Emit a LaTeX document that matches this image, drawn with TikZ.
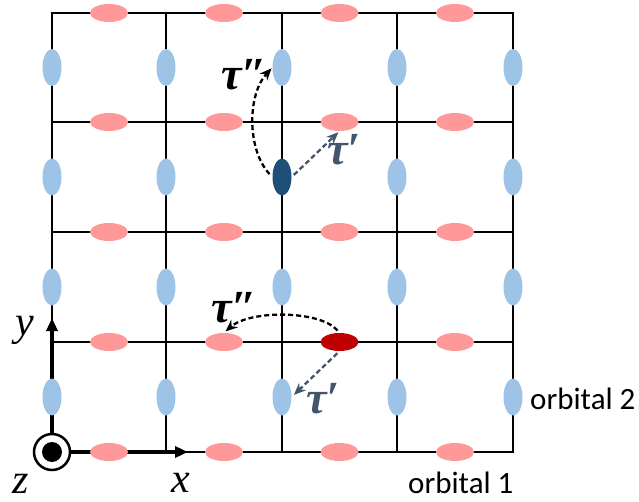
\documentclass[tikz,border=0pt]{standalone}
\usepackage{fontspec}
\setmainfont{Liberation Serif}
\newfontfamily\lblfont{Carlito}
\usetikzlibrary{shapes.geometric,arrows.meta}
\definecolor{pinkorb}{HTML}{FF9999}
\definecolor{blueorb}{HTML}{9DC3E6}
\definecolor{darkblueorb}{HTML}{1F4E79}
\definecolor{darkredorb}{HTML}{C00000}
\definecolor{slate}{HTML}{44546A}
\begin{document}
\begin{tikzpicture}[x=1pt,y=-1pt,
  gridline/.style={line width=2.3pt, black, line cap=rect},
  orbone/.style={ellipse, fill=pinkorb, minimum width=38pt, minimum height=18pt, inner sep=0pt},
  orbtwo/.style={ellipse, fill=blueorb, minimum width=19pt, minimum height=37pt, inner sep=0pt},
  hopblack/.style={black, line width=2.3pt, dash pattern=on 5pt off 3pt, -{Stealth[length=12pt,width=10pt]}},
  hopslate/.style={slate, line width=2.3pt, dash pattern=on 5pt off 3pt, -{Stealth[length=12pt,width=10pt]}},
  axisline/.style={line width=4.5pt, black, -{Triangle[length=13pt,width=11pt]}},
  taulbl/.style={inner sep=0pt, font=\fontsize{46}{46}\selectfont\bfseries\itshape},
  axlbl/.style={inner sep=0pt, font=\fontsize{42}{42}\selectfont\itshape},
  orblbl/.style={inner sep=0pt, font=\lblfont\fontsize{31}{31}\selectfont}
]
\useasboundingbox (0,0) rectangle (639,502);
% grid points
\foreach \i/\x in {1/52,2/166,3/282,4/397,5/513}
  \foreach \j/\y in {1/13,2/122,3/232,4/342,5/452}
    \coordinate (g-\i-\j) at (\x,\y);
\foreach \j in {1,...,5} \draw[gridline] (g-1-\j) -- (g-5-\j);
\foreach \i in {1,...,5} \draw[gridline] (g-\i-1) -- (g-\i-5);
% axes
\coordinate (o) at (52,452);
\coordinate (ytip) at (52,318);
\coordinate (xtip) at (188,452);
\draw[axisline] (o) -- (ytip);
\draw[axisline] (o) -- (xtip);
% orbital 1 (pink)
\foreach \i/\x in {1/109,2/224,3/339.5,4/455}
  \foreach \j/\y in {1/13,2/122,3/232,4/342,5/452}{
    \ifnum\i\j=34
      \node[orbone, fill=darkredorb] (p-\i-\j) at (\x,\y) {};
    \else
      \node[orbone] (p-\i-\j) at (\x,\y) {};
    \fi
  }
% orbital 2 (blue)
\foreach \i/\x in {1/52,2/166,3/282,4/397,5/513}
  \foreach \j/\y in {1/67.5,2/177,3/287,4/397}{
    \ifnum\i\j=32
      \node[orbtwo, fill=darkblueorb] (b-\i-\j) at (\x,\y) {};
    \else
      \node[orbtwo] (b-\i-\j) at (\x,\y) {};
    \fi
  }
% origin (z axis)
\node[circle, draw=black, line width=2.5pt, fill=white, minimum size=36pt, inner sep=0pt] (zc) at (o) {};
\node[circle, fill=black, minimum size=20pt, inner sep=0pt] (zd) at (o) {};
% hopping arrows
\draw[hopblack, shorten <=4pt, shorten >=1pt] (b-3-2.west) .. controls (247,150) and (247,95) .. (b-3-1.west);
\draw[hopslate, shorten <=3pt, shorten >=1.5pt] (b-3-2.east) -- (p-3-2.south);
\draw[hopblack, shorten <=3pt, shorten >=2pt] (p-3-4.north) .. controls (320,310) and (250,310) .. (p-2-4.north);
\draw[hopslate, shorten <=3pt, shorten >=3pt] (p-3-4.south) -- (b-3-4.east);
% labels
\node[taulbl, anchor=base west] (t2top) at (221,90) {τ″};
\node[taulbl, anchor=base west, text=slate] (t1top) at (327,165) {τ′};
\node[taulbl, anchor=base west] (t2bot) at (211,322) {τ″};
\node[taulbl, anchor=base west, text=slate] (t1bot) at (306,413) {τ′};
\node[axlbl, anchor=base west] (xl) at (171,492) {x};
\node[axlbl, anchor=base west] (yl) at (15,335) {y};
\node[axlbl, anchor=base west] (zl) at (12,493) {z};
\node[orblbl, anchor=base west] (o2) at (530,409) {orbital 2};
\node[orblbl, anchor=base west] (o1) at (408,493) {orbital 1};
\end{tikzpicture}
\end{document}
